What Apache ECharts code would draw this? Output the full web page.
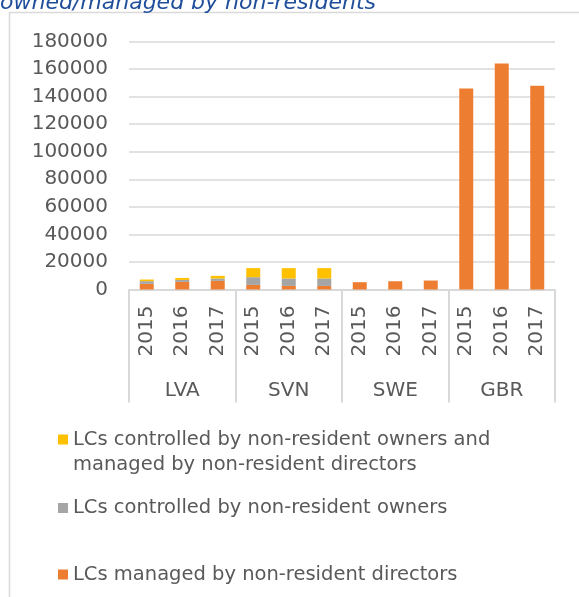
<!DOCTYPE html>
<html>
<head>
<meta charset="utf-8">
<script src="https://cdn.jsdelivr.net/npm/echarts@6/dist/echarts.min.js"></script>
<style>
  html, body { margin: 0; padding: 0; background: #fff; }
  #chart { width: 579px; height: 597px; }
</style>
</head>
<body>
<div id="chart"></div>
<script>
const countries = ['LVA', 'SVN', 'SWE', 'GBR']
const years = ['2015', '2016', '2017']
// one entry per country/year, in the order LVA 2015..2017, SVN ..., SWE ..., GBR ...
const managedByDirectors = [4100, 5500, 6250, 3350, 2600, 2600, 5300, 6000, 6500, 145900, 164100, 147800]
const controlledByOwners = [1950, 1450, 1750, 5600, 5400, 5400, 0, 0, 0, 0, 0, 0]
const controlledAndManaged = [1200, 1450, 1900, 6550, 7500, 7500, 0, 0, 0, 0, 0, 0]
const yTicks = { min: 0, max: 180000, interval: 20000 }

const nameBoth = 'LCs controlled by non-resident owners and managed by non-resident directors'
const nameOwners = 'LCs controlled by non-resident owners'
const nameDirectors = 'LCs managed by non-resident directors'

const categories = []
countries.forEach(c => years.forEach(y => categories.push(c + ' ' + y)))

const font = 'DejaVu Sans'
const textGrey = '#595959'
const lineGrey = '#d9d9d9'

const chart = echarts.init(document.getElementById('chart'))

const legendBase = {
  left: 58,
  orient: 'vertical',
  padding: 0,
  itemWidth: 10,
  itemHeight: 10,
  itemGap: 0,
  icon: 'rect',
  selectedMode: false,
  textStyle: { color: textGrey, fontFamily: font, fontSize: 19.5, lineHeight: 25 }
}

const option = {
  animation: false,
  graphic: [
    {
      type: 'rect',
      shape: { x: 9.5, y: 12.5, width: 700, height: 700 },
      style: { fill: 'none', stroke: lineGrey, lineWidth: 1.5 },
      silent: true
    },
    {
      type: 'text',
      x: 0,
      y: 14,
      style: {
        text: 'owned/managed by non-residents',
        font: 'italic 22px "DejaVu Sans"',
        fill: '#1F4E9A',
        verticalAlign: 'bottom'
      },
      silent: true
    }
  ],
  legend: [
    // empty first line keeps the marker level with the first text line
    Object.assign({}, legendBase, {
      top: 402,
      data: [nameBoth],
      formatter: () => '\nLCs controlled by non-resident owners and\nmanaged by non-resident directors'
    }),
    Object.assign({}, legendBase, { top: 495.5, data: [nameOwners] }),
    Object.assign({}, legendBase, { top: 562, data: [nameDirectors] })
  ],
  grid: {
    left: 129,
    right: 24,
    top: 41.5,
    bottom: 307.5
  },
  xAxis: [
    {
      type: 'category',
      data: categories,
      position: 'bottom',
      axisLine: { lineStyle: { color: lineGrey, width: 2 } },
      axisTick: { show: false },
      axisLabel: {
        interval: 0,
        rotate: 90,
        margin: 16,
        color: textGrey,
        fontFamily: font,
        fontSize: 20,
        formatter: v => v.slice(-4)
      }
    },
    {
      type: 'category',
      data: countries,
      position: 'bottom',
      axisLine: { show: false },
      axisTick: {
        show: true,
        interval: 0,
        length: 113,
        lineStyle: { color: lineGrey, width: 2 }
      },
      axisLabel: {
        interval: 0,
        margin: 91,
        color: textGrey,
        fontFamily: font,
        fontSize: 20
      }
    }
  ],
  yAxis: {
    type: 'value',
    min: yTicks.min,
    max: yTicks.max,
    interval: yTicks.interval,
    axisLine: { show: false },
    axisTick: { show: false },
    splitLine: { lineStyle: { color: lineGrey, width: 1.5 } },
    axisLabel: {
      margin: 21,
      color: textGrey,
      fontFamily: font,
      fontSize: 20,
      formatter: v => String(v)
    }
  },
  series: [
    {
      name: nameDirectors,
      type: 'bar',
      stack: 'lc',
      barWidth: 14,
      itemStyle: { color: '#ED7D31' },
      data: managedByDirectors
    },
    {
      name: nameOwners,
      type: 'bar',
      stack: 'lc',
      barWidth: 14,
      itemStyle: { color: '#A5A5A5' },
      data: controlledByOwners
    },
    {
      name: nameBoth,
      type: 'bar',
      stack: 'lc',
      barWidth: 14,
      itemStyle: { color: '#FFC000' },
      data: controlledAndManaged
    }
  ]
}

chart.setOption(option)
</script>
</body>
</html>
